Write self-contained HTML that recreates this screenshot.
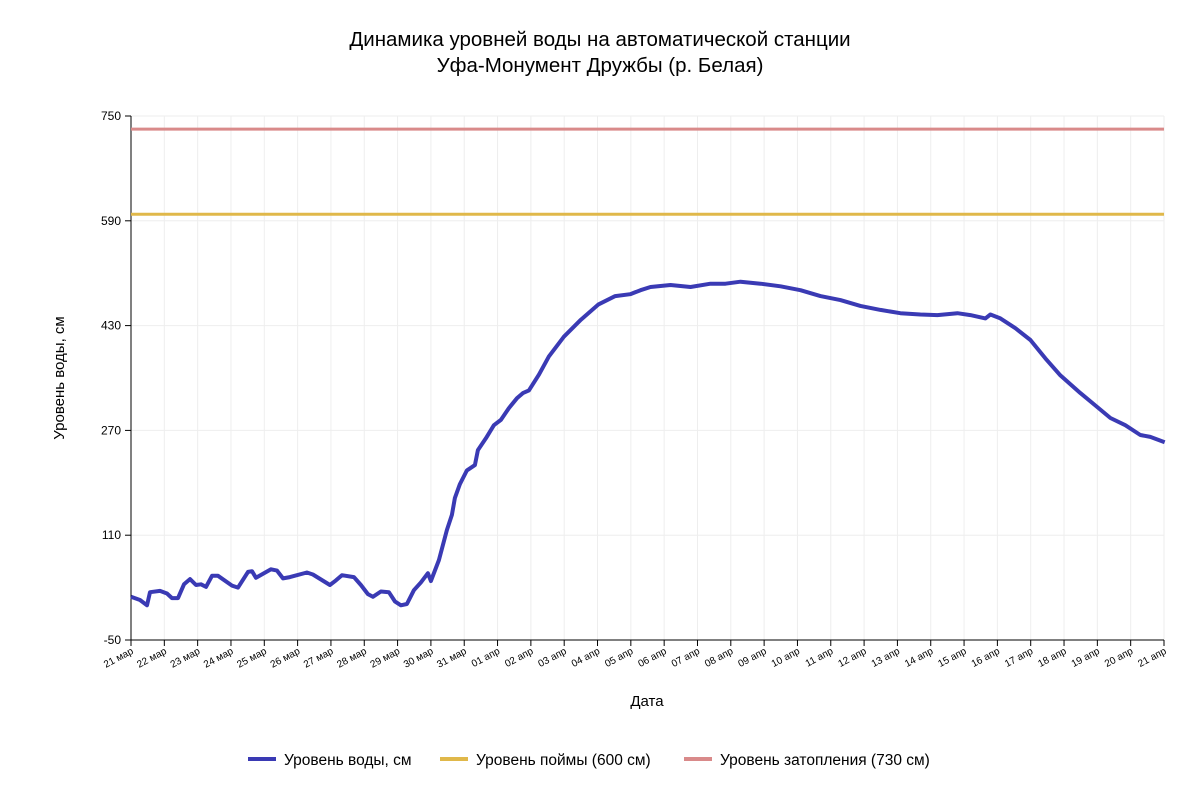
<!DOCTYPE html>
<html><head><meta charset="utf-8"><style>
body{margin:0;background:#fff;font-family:"Liberation Sans",sans-serif}
svg text{font-family:"Liberation Sans","DejaVu Sans",sans-serif;fill:#000}
</style></head><body>
<svg id="c" width="1200" height="800" xmlns="http://www.w3.org/2000/svg">
<text x="600" y="46" text-anchor="middle" font-size="20.5">Динамика уровней воды на автоматической станции</text>
<text x="600" y="72" text-anchor="middle" font-size="20.5">Уфа-Монумент Дружбы (р. Белая)</text>
<text transform="translate(64,378) rotate(-90)" text-anchor="middle" font-size="15">Уровень воды, см</text>
<text x="647" y="706" text-anchor="middle" font-size="15">Дата</text>
<g>
<line x1="248" y1="759" x2="276" y2="759" stroke="#3a3ab4" stroke-width="4"/>
<text x="284" y="765" font-size="15.5">Уровень воды, см</text>
<line x1="440" y1="759" x2="468" y2="759" stroke="#e0b84a" stroke-width="4"/>
<text x="476" y="765" font-size="15.5">Уровень поймы (600 см)</text>
<line x1="684" y1="759" x2="712" y2="759" stroke="#d98a8a" stroke-width="4"/>
<text x="720" y="765" font-size="15.5">Уровень затопления (730 см)</text>
</g>
</svg>
<script>
const yTicks=[-50,110,270,430,590,750];
const dayLabels=["21 мар","22 мар","23 мар","24 мар","25 мар","26 мар","27 мар","28 мар","29 мар","30 мар","31 мар","01 апр","02 апр","03 апр","04 апр","05 апр","06 апр","07 апр","08 апр","09 апр","10 апр","11 апр","12 апр","13 апр","14 апр","15 апр","16 апр","17 апр","18 апр","19 апр","20 апр","21 апр"];
const days=[0,0.27,0.48,0.57,0.87,1.08,1.23,1.41,1.59,1.77,1.95,2.1,2.25,2.43,2.61,3.03,3.21,3.51,3.63,3.75,4.2,4.38,4.56,4.77,5.28,5.46,5.97,6.15,6.33,6.69,6.9,7.11,7.26,7.5,7.74,7.92,8.1,8.28,8.49,8.7,8.91,9.0,9.24,9.48,9.63,9.72,9.87,10.08,10.32,10.41,10.65,10.89,11.1,11.34,11.58,11.76,11.94,12.24,12.54,12.99,13.5,14.02,14.53,14.98,15.29,15.59,16.19,16.79,17.39,17.84,18.29,18.89,19.49,20.09,20.69,21.29,21.89,22.49,23.09,23.69,24.2,24.8,25.19,25.64,25.79,26.09,26.54,26.99,27.44,27.89,28.49,28.94,29.39,29.84,30.29,30.59,31.02];
const level=[16,11,3,23,25,21,14,14,35,43,34,35,31,48,48,33,30,54,55,45,58,56,44,46,53,50,34,41,49,46,34,20,16,24,23,9,3,5,26,38,52,40,72,118,141,167,188,209,217,240,258,278,286,304,319,327,331,355,383,413,439,462,475,478,484,489,492,489,494,494,497,494,490,484,475,469,460,454,449,447,446,449,446,441,447,441,426,408,380,354,327,308,289,278,263,260,252];
const NS="http://www.w3.org/2000/svg",svg=document.getElementById('c');
const X0=131,X1=1164,Y0=640,Y1=116,YMIN=-50,YMAX=750;
const xs=d=>X0+(X1-X0)*d/31, ys=v=>Y0-(Y0-Y1)*(v-YMIN)/(YMAX-YMIN);
function mk(t,a){const e=document.createElementNS(NS,t);for(const k in a)e.setAttribute(k,a[k]);svg.appendChild(e);return e;}
dayLabels.forEach((l,i)=>{const x=xs(i);
 const g=mk('line',{x1:x,y1:Y1,x2:x,y2:Y0,stroke:'#eee','stroke-width':1});
 
 
 const t=mk('line',{x1:x,y1:Y0,x2:x,y2:Y0+6,stroke:'#000'});
 
 
 const tx=mk('text',{x:x+3,y:Y0+13,'font-size':10,'text-anchor':'end',transform:`rotate(-28 ${x+3} ${Y0+13})`});
 tx.textContent=l;
 
 
});
yTicks.forEach(v=>{const y=ys(v);
 const g=mk('line',{x1:X0,y1:y,x2:X1,y2:y,stroke:'#eee'});
 
 
 const t=mk('line',{x1:X0-6,y1:y,x2:X0,y2:y,stroke:'#000'});
 
 
 const tx=mk('text',{x:X0-10,y:y+4,'font-size':12,'text-anchor':'end'});
 tx.textContent=v;
 
 
});
const ax=mk('path',{d:`M${X0},${Y1}V${Y0}H${X1}`,fill:'none',stroke:'#000'});


const fl=mk('line',{x1:X0,y1:ys(730),x2:X1,y2:ys(730),stroke:'#d98a8a','stroke-width':3});


const fp=mk('line',{x1:X0,y1:ys(600),x2:X1,y2:ys(600),stroke:'#e0b84a','stroke-width':3});


const p=mk('path',{d:'M'+days.map((d,i)=>xs(d).toFixed(1)+','+ys(level[i]).toFixed(1)).join('L'),fill:'none',stroke:'#3a3ab4','stroke-width':4,'stroke-linejoin':'round'});


</script>
</body></html>
